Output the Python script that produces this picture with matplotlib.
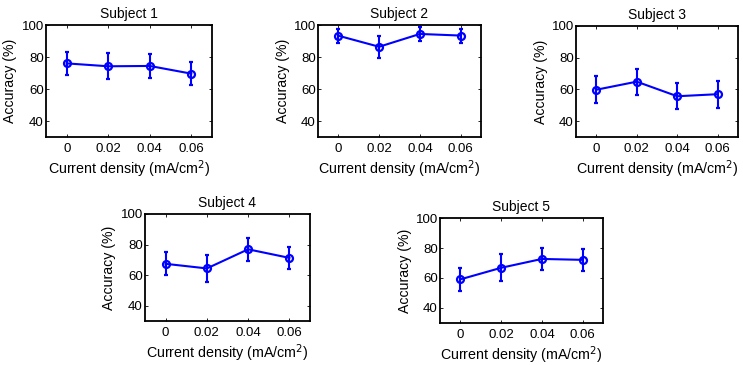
import matplotlib
matplotlib.use('Agg')
import matplotlib.pyplot as plt
import numpy as np

plt.rcParams['font.family'] = ['Liberation Sans', 'DejaVu Sans']
plt.rcParams['font.size'] = 10

density = [0, 0.02, 0.04, 0.06]
xticklabels = ['0', '0.02', '0.04', '0.06']
subjects = ['Subject 1', 'Subject 2', 'Subject 3', 'Subject 4', 'Subject 5']

# mean accuracy (%) and error half-width
acc_s1 = [76.0, 74.2, 74.4, 69.6]
err_s1 = [7.0, 8.2, 7.5, 7.3]
acc_s2 = [93.3, 86.4, 94.4, 93.4]
err_s2 = [4.4, 7.0, 4.5, 4.4]
acc_s3 = [59.8, 64.9, 55.7, 57.0]
err_s3 = [8.6, 8.2, 8.3, 8.5]
acc_s4 = [67.4, 64.4, 76.9, 71.3]
err_s4 = [7.5, 8.6, 7.5, 7.4]
acc_s5 = [59.1, 66.8, 72.7, 72.1]
err_s5 = [7.7, 9.0, 7.3, 7.4]

accs = [acc_s1, acc_s2, acc_s3, acc_s4, acc_s5]
errs = [err_s1, err_s2, err_s3, err_s4, err_s5]

W, H = 743, 365
fig = plt.figure(figsize=(W / 100, H / 100), dpi=100)

# axes boxes in pixels: left, top, right, bottom
boxes = [(46, 25, 212, 137), (318, 25, 481, 137), (576, 26, 738, 137),
         (145, 214, 310, 321), (440, 218, 603, 323)]

for i, (l, t, r, b) in enumerate(boxes):
    ax = fig.add_axes([l / W, 1 - b / H, (r - l) / W, (b - t) / H])
    ax.errorbar(density, accs[i], yerr=errs[i], color='#0000ff', lw=1.5,
                marker='o', ms=5, mfc='none', mec='#0000ff', mew=1.6,
                capsize=1.5, elinewidth=1.5, capthick=1.2)
    ax.set_xlim(-0.01, 0.07)
    ax.set_ylim(30, 100)
    ax.set_xticks(density)
    ax.set_xticklabels(xticklabels)
    ax.set_yticks([40, 60, 80, 100])
    ax.tick_params(direction='in', top=True, right=True, length=2,
                   width=0.6, labelsize=9.5)
    ax.tick_params(axis='x', pad=4)
    ax.tick_params(axis='y', pad=1.5)
    for s in ax.spines.values():
        s.set_linewidth(1.3)
    ax.set_title(subjects[i], fontsize=10, pad=5)
    ax.set_xlabel('Current density (mA/cm$^2$)', fontsize=10.3, labelpad=3)
    ax.set_ylabel('Accuracy (%)', fontsize=10.2, labelpad=3)

fig.savefig('out.png', dpi=100)
